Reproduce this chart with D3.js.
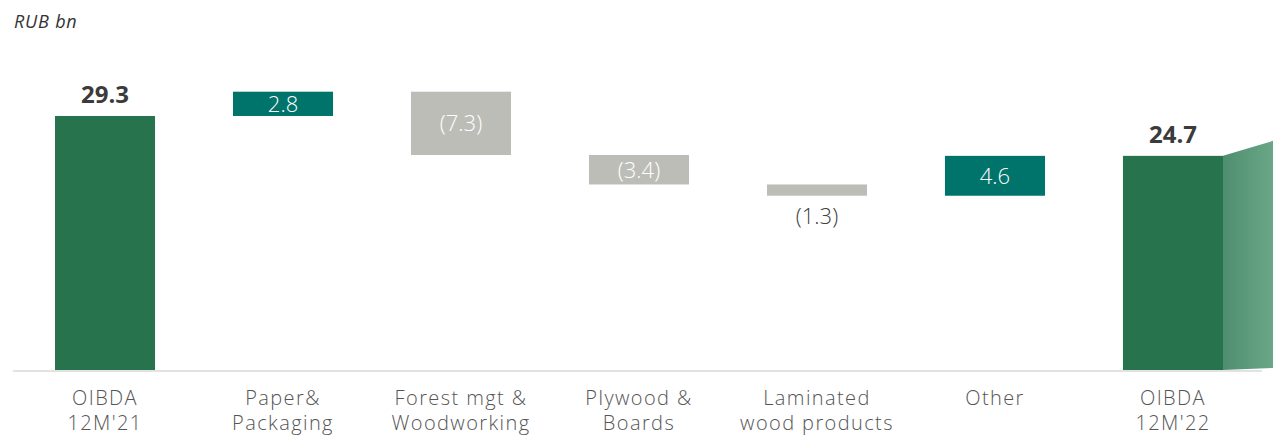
<!DOCTYPE html>
<html>
<head>
<meta charset="utf-8">
<script src="https://cdn.jsdelivr.net/npm/d3@7"></script>
<style>
  html, body { margin: 0; padding: 0; background: #fff; }
  svg { display: block; font-family: "Open Sans", "DejaVu Sans", sans-serif; }
</style>
</head>
<body>
<svg id="chart" width="1273" height="435"></svg>
<script>
// OIBDA bridge, RUB bn
const categories = [
  ["OIBDA", "12M'21"],
  ["Paper&", "Packaging"],
  ["Forest mgt &", "Woodworking"],
  ["Plywood &", "Boards"],
  ["Laminated", "wood products"],
  ["Other"],
  ["OIBDA", "12M'22"]
];
const kinds = ["total", "delta", "delta", "delta", "delta", "delta", "total"];
const values = [29.3, 2.8, -7.3, -3.4, -1.3, 4.6, 24.7];
const valueLabels = ["29.3", "2.8", "(7.3)", "(3.4)", "(1.3)", "4.6", "24.7"];
const unitLabel = "RUB bn";

const colors = { total: "#26734d", up: "#00736b", down: "#bdbdb8" };

const svg = d3.select("#chart");
const W = 1273;
const baseY = 370;

// running totals for the waterfall
let run = 0;
const bars = values.map((v, i) => {
  let y0, y1;
  if (kinds[i] === "total") { y0 = 0; y1 = v; run = v; }
  else { y0 = run; y1 = run + v; run = y1; }
  return { i, v, y0, y1, kind: kinds[i], label: valueLabels[i], cat: categories[i] };
});

const x = d3.scaleBand()
  .domain(d3.range(categories.length))
  .range([55, 1223])
  .paddingInner(0.438)
  .paddingOuter(0);

const y = d3.scaleLinear().domain([0, 32.1]).range([baseY, 91.7]);

// shaded perspective face beside the final bar
const defs = svg.append("defs");
const grad = defs.append("linearGradient").attr("id", "sideGrad")
  .attr("x1", "0%").attr("x2", "100%").attr("y1", "0%").attr("y2", "0%");
grad.append("stop").attr("offset", "0%").attr("stop-color", "#4e8e6f");
grad.append("stop").attr("offset", "100%").attr("stop-color", "#6aa789");

const last = bars[bars.length - 1];
const lx = x(last.i) + x.bandwidth();
svg.append("path")
  .attr("d", `M${lx},${y(last.y1)} L${W},${y(last.y1) - 15} L${W},${baseY - 2} L${lx},${baseY} Z`)
  .attr("fill", "url(#sideGrad)");

// baseline
svg.append("line")
  .attr("x1", 13).attr("x2", 1262)
  .attr("y1", baseY + 1).attr("y2", baseY + 1)
  .attr("stroke", "#d9d9d9").attr("stroke-width", 1.5);

// bars
svg.selectAll("rect.bar").data(bars).join("rect")
  .attr("class", "bar")
  .attr("x", d => x(d.i))
  .attr("width", x.bandwidth())
  .attr("y", d => y(Math.max(d.y0, d.y1)))
  .attr("height", d => Math.abs(y(d.y0) - y(d.y1)))
  .attr("fill", d => d.kind === "total" ? colors.total : (d.v >= 0 ? colors.up : colors.down));

// value labels
bars.forEach(d => {
  const cx = x(d.i) + x.bandwidth() / 2;
  const top = y(Math.max(d.y0, d.y1));
  const bot = y(Math.min(d.y0, d.y1));
  const t = svg.append("text").attr("x", cx).attr("text-anchor", "middle").text(d.label);
  if (d.kind === "total") {
    t.attr("y", top - 13).attr("font-size", 24).attr("font-weight", 700).attr("fill", "#3b3b3b");
  } else if (bot - top < 22) {
    t.attr("y", bot + 28).attr("font-size", 22).attr("font-weight", 300).attr("fill", "#404040");
  } else {
    t.attr("y", (top + bot) / 2 + 8).attr("font-size", 22).attr("font-weight", 300).attr("fill", "#ffffff");
  }
});

// category labels
bars.forEach(d => {
  const cx = x(d.i) + x.bandwidth() / 2;
  const t = svg.append("text").attr("text-anchor", "middle")
    .attr("font-size", 20).attr("letter-spacing", 1.4).attr("font-weight", 300).attr("fill", "#555555");
  d.cat.forEach((line, k) => {
    t.append("tspan").attr("x", cx).attr("y", 405 + k * 25).text(line);
  });
});

// unit label
svg.append("text")
  .attr("x", 14).attr("y", 28)
  .attr("font-size", 18).attr("font-style", "italic").attr("letter-spacing", 0.8).attr("fill", "#333")
  .text(unitLabel);
</script>
</body>
</html>
